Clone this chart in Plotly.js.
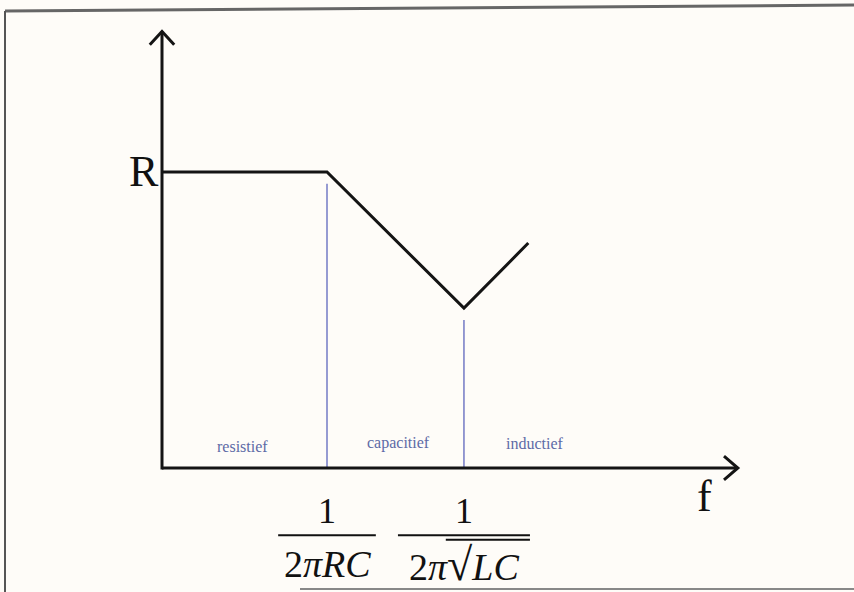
<!DOCTYPE html>
<html>
<head>
<meta charset="utf-8">
<script src="https://cdn.plot.ly/plotly-3.0.1.min.js"></script>
<style>html,body{margin:0;padding:0;background:#fefcf8;}#chart{width:854px;height:592px;}</style>
</head>
<body>
<div id="chart"></div>
<script>
// Data (arbitrary units)
const freq = [0, 5, 9.15, 11.1];           // f
const impedance = [10, 10, 5.4, 7.6];      // |Z|
const boundaryFreq = [5, 9.15];            // 1/(2πRC), 1/(2π√LC)
const boundaryTop = [9.6, 5.0];            // top of the blue marker lines
const regionNames = ['resistief', 'capacitief', 'inductief'];
const regionX = [2.45, 7.18, 11.3];
const regionY = [0.72, 0.84, 0.84];
const levelLabel = 'R';
const levelValue = 10;
const axisLabel = 'f';
const numerators = ['1', '1'];
const denominators = ['2<i>πRC</i>', '2<i>π</i><span style="font-size:46px">√</span><i>LC</i>'];

const xRange = [-162/33, (854-162)/33];
const yRange = [-124/29.6, 468/29.6];
const xMax = 17.45, yMax = 14.75;
const serif = 'Liberation Serif, Times New Roman, serif';
const blue = '#7c82c8';

const traces = [
  {x: freq, y: impedance, type: 'scatter', mode: 'lines',
   line: {color: '#141414', width: 3}, hoverinfo: 'skip', showlegend: false}
];
boundaryFreq.forEach((f, i) => traces.push({
  x: [f, f], y: [boundaryTop[i], 0], type: 'scatter', mode: 'lines',
  line: {color: blue, width: 1.6}, hoverinfo: 'skip', showlegend: false
}));

const shapes = [
  // axes
  {type: 'line', xref: 'x', yref: 'y', x0: 0, y0: 0, x1: xMax, y1: 0, line: {color: '#141414', width: 3}},
  {type: 'line', xref: 'x', yref: 'y', x0: 0, y0: -0.05, x1: 0, y1: yMax, line: {color: '#141414', width: 3}},
  // arrow heads
  {type: 'path', xref: 'x', yref: 'y',
   path: `M ${xMax-0.42},${0.4} L ${xMax},0 L ${xMax-0.42},${-0.4}`, line: {color: '#141414', width: 3}},
  {type: 'path', xref: 'x', yref: 'y',
   path: `M -0.37,${yMax-0.45} L 0,${yMax} L 0.37,${yMax-0.45}`, line: {color: '#141414', width: 3}},
  // frame of the scan
  {type: 'line', xref: 'paper', yref: 'paper', x0: 5/854, y0: 1-11/592, x1: 1, y1: 1-5/592, line: {color: '#666', width: 3}},
  {type: 'line', xref: 'paper', yref: 'paper', x0: 5/854, y0: 1-11/592, x1: 5/854, y1: 0, line: {color: '#555', width: 2}},
  {type: 'line', xref: 'paper', yref: 'paper', x0: 300/854, y0: 1-589/592, x1: 1, y1: 1-589/592, line: {color: '#888', width: 2}}
];

const annotations = [
  {x: -0.07, y: levelValue, xref: 'x', yref: 'y', text: levelLabel, showarrow: false,
   xanchor: 'right', yanchor: 'middle', xshift: 1, yshift: 1, font: {family: serif, size: 44, color: '#111'}},
  {x: 16.45, y: -0.95, xref: 'x', yref: 'y', text: axisLabel, showarrow: false,
   xanchor: 'center', yanchor: 'middle', font: {family: serif, size: 44, color: '#111'}}
];
regionNames.forEach((n, i) => annotations.push({
  x: regionX[i], y: regionY[i], xref: 'x', yref: 'y', text: n, showarrow: false,
  xanchor: 'center', yanchor: 'middle', font: {family: serif, size: 16, color: '#5d6aa6'}
}));
const barHalf = [1.48, 2.0];
boundaryFreq.forEach((f, i) => {
  annotations.push({x: f, y: -1.45, xref: 'x', yref: 'y', text: numerators[i], showarrow: false,
    xanchor: 'center', yanchor: 'middle', font: {family: serif, size: 36, color: '#111'}});
  annotations.push({x: f, y: -3.25, xref: 'x', yref: 'y', text: denominators[i], showarrow: false,
    xanchor: 'center', yanchor: 'middle', font: {family: serif, size: 38, color: '#111'}});
  shapes.push({type: 'line', xref: 'x', yref: 'y', x0: f - barHalf[i], x1: f + barHalf[i],
    y0: -2.27, y1: -2.27, line: {color: '#111', width: 2}});
});
// vinculum of the square root
shapes.push({type: 'line', xref: 'x', yref: 'y', x0: 8.6, x1: 11.15, y0: -2.42, y1: -2.42, line: {color: '#111', width: 2}});

const layout = {
  width: 854, height: 592,
  margin: {l: 0, r: 0, t: 0, b: 0},
  paper_bgcolor: '#fefcf8', plot_bgcolor: '#fefcf8',
  xaxis: {range: xRange, visible: false, fixedrange: true},
  yaxis: {range: yRange, visible: false, fixedrange: true},
  shapes: shapes, annotations: annotations, showlegend: false
};
Plotly.newPlot('chart', traces, layout, {staticPlot: true, displayModeBar: false});
</script>
</body>
</html>
